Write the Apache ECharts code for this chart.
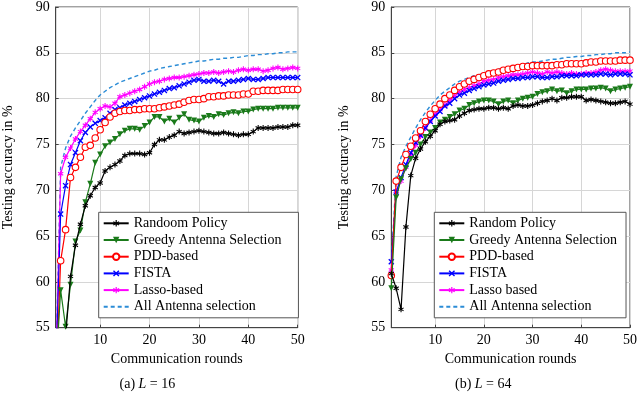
<!DOCTYPE html>
<html><head><meta charset="utf-8">
<script src="https://cdn.jsdelivr.net/npm/echarts@6/dist/echarts.min.js"></script>
<style>html,body{margin:0;padding:0;background:#fff}#c{width:640px;height:393px}</style>
</head><body><div id="c"></div>
<script>
// ---------- data ----------
const rounds = [1,2,3,4,5,6,7,8,9,10,11,12,13,14,15,16,17,18,19,20,21,22,23,24,25,26,27,28,29,30,31,32,33,34,35,36,37,38,39,40,41,42,43,44,45,46,47,48,49,50];
const xTicks = [10,20,30,40,50];
const yTicks = [55,60,65,70,75,80,85,90];

// (a) L = 16
const randomA = [40,48,54,60.6,64.0,66.3,68.3,69.4,70.3,70.8,72.1,72.5,72.8,73.2,73.8,74.0,74.0,74.0,73.9,74.1,75.0,75.5,75.5,75.8,76.0,76.4,76.2,76.3,76.4,76.5,76.4,76.3,76.2,76.2,76.3,76.2,76.1,76.0,76.1,76.1,76.4,76.8,76.8,76.8,76.8,76.9,76.9,76.9,77.1,77.1];
const greedyA = [50,59.1,55.1,59.7,64.4,65.6,68.7,70.7,73.0,73.9,74.8,75.2,75.6,76.1,76.5,76.7,76.7,76.6,77.0,77.4,78.0,78.0,77.5,77.8,77.4,77.9,78.3,77.7,77.6,77.5,77.9,78.1,78.0,78.3,78.2,78.4,78.5,78.4,78.6,78.6,78.8,78.9,78.9,78.9,78.9,79.0,79.0,79.0,79.0,79.0];
const pddA = [48,62.3,65.7,71.4,72.5,73.6,74.7,74.9,75.7,76.6,77.4,78.0,78.4,78.6,78.7,78.7,78.8,78.8,78.9,78.9,78.9,79.0,79.1,79.2,79.3,79.4,79.6,79.8,79.9,79.9,80.0,80.2,80.2,80.3,80.3,80.4,80.4,80.4,80.5,80.5,80.8,80.8,80.9,80.9,80.9,80.9,81.0,81.0,81.0,81.0];
const fistaA = [50,67.4,70.5,72.8,74.1,75.4,76.3,76.9,77.3,77.6,77.9,78.4,78.8,79.0,79.3,79.5,79.7,79.9,80.1,80.3,80.5,80.7,80.9,81.1,81.2,81.4,81.6,81.8,82.0,82.1,81.9,81.9,82.0,81.9,81.6,81.9,81.9,82.0,82.1,82.2,82.1,82.1,82.2,82.3,82.3,82.3,82.3,82.3,82.3,82.3];
const lassoA = [50,71.8,73.6,74.6,75.6,76.4,77.1,77.8,78.5,78.9,79.2,79.1,79.5,80.2,80.4,80.6,80.8,81.0,81.3,81.6,81.8,81.9,82.1,82.2,82.3,82.3,82.4,82.5,82.6,82.7,82.8,82.8,82.9,82.8,82.9,83.0,82.9,83.1,83.2,83.1,83.2,83.2,83.0,83.1,83.3,83.4,83.2,83.3,83.4,83.3];
const allA = [50,72.5,74.6,75.9,76.8,77.6,78.4,79.1,79.8,80.4,80.8,81.2,81.5,81.8,82.0,82.2,82.4,82.6,82.8,83.0,83.1,83.3,83.4,83.5,83.6,83.7,83.8,83.9,84.0,84.1,84.1,84.2,84.3,84.3,84.4,84.4,84.5,84.5,84.6,84.7,84.7,84.8,84.8,84.9,84.9,85.0,85.0,85.1,85.1,85.1];

// (b) L = 64
const randomB = [60.9,59.3,57.0,66.0,71.6,73.5,74.5,75.3,75.9,76.5,77.2,77.5,77.6,77.7,78.1,78.4,78.7,78.8,78.9,78.9,79.0,79.0,78.9,79.0,78.9,79.2,79.3,79.2,79.2,79.3,79.5,79.7,79.8,80.0,79.8,80.1,80.1,80.2,80.2,80.2,79.8,79.9,79.8,79.7,79.6,79.5,79.5,79.6,79.7,79.4];
const greedyB = [59.3,69.2,71.2,72.4,73.4,74.1,75.0,75.8,76.3,76.8,77.4,77.7,78.0,78.3,78.7,78.9,79.3,79.5,79.7,79.8,79.8,79.7,79.4,79.7,79.8,79.5,79.8,80.0,80.1,80.2,80.5,80.7,80.8,81.0,80.8,80.9,80.6,80.8,81.0,81.0,81.0,81.1,81.1,81.2,81.1,80.8,81.0,81.1,81.2,81.3];
const pddB = [60.7,71.0,72.5,73.9,74.8,75.7,76.5,77.5,78.3,78.9,79.4,80.0,80.4,80.9,81.3,81.6,81.9,82.1,82.3,82.5,82.7,82.8,82.9,83.1,83.2,83.3,83.4,83.5,83.5,83.6,83.6,83.6,83.6,83.6,83.7,83.7,83.8,83.8,83.8,83.8,83.9,84.0,84.0,84.1,84.1,84.1,84.1,84.2,84.2,84.2];
const fistaB = [62.2,69.8,71.4,72.8,74.1,75.2,76.0,76.8,77.5,78.1,78.6,79.2,79.5,80.0,80.4,80.6,80.9,81.1,81.3,81.5,81.6,81.7,81.9,82.0,82.1,82.2,82.2,82.3,82.3,82.4,82.4,82.3,82.3,82.4,82.4,82.5,82.5,82.5,82.5,82.6,82.6,82.6,82.6,82.7,82.7,82.6,82.7,82.7,82.7,82.6];
const lassoB = [61.3,69.9,71.0,72.5,73.9,74.9,75.9,76.8,77.6,78.3,78.8,79.3,79.8,80.3,80.7,81.0,81.2,81.4,81.6,81.9,82.0,82.1,82.3,82.4,82.5,82.6,82.6,82.7,82.8,82.9,82.8,82.7,82.9,82.8,82.9,82.8,82.7,82.8,82.7,82.7,82.8,82.8,82.9,83.1,83.2,83.1,83.0,83.0,83.0,83.0];
const allB = [62,71.5,73.6,74.8,75.8,76.8,77.7,78.5,79.2,79.8,80.4,80.8,81.2,81.6,81.9,82.1,82.3,82.5,82.6,82.8,82.9,83.0,83.2,83.3,83.4,83.5,83.6,83.7,83.9,84.0,84.0,84.1,84.2,84.3,84.3,84.4,84.5,84.5,84.6,84.6,84.7,84.7,84.8,84.8,84.9,84.9,85.0,85.0,85.0,85.1];

const namesA = ['Randoom Policy','Greedy Antenna Selection','PDD-based','FISTA','Lasso-based','All Antenna selection'];
const namesB = ['Random Policy','Greedy Antenna Selection','PDD-based','FISTA','Lasso based','All Antenna selection'];

// ---------- styles ----------
const FONT = '"Liberation Serif", "Times New Roman", serif';
const ASTER = 'path://M-0.9,-5L0.9,-5L0.9,5L-0.9,5ZM-4.78,-1.72L-3.88,-3.28L4.78,1.72L3.88,3.28ZM3.88,-3.28L4.78,-1.72L-3.88,3.28L-4.78,1.72Z';
const CROSS = 'path://M-4.18,-2.9L-2.9,-4.18L4.18,2.9L2.9,4.18ZM2.9,-4.18L4.18,-2.9L-2.9,4.18L-4.18,2.9Z';
const styles = [
  {color:'#000000', symbol:ASTER, size:6, fill:'#000000'},
  {color:'#1a7a1a', symbol:'triangle', size:6, rotate:180, fill:'#1a7a1a'},
  {color:'#ff0000', symbol:'circle', size:6.5, fill:'#ffffff'},
  {color:'#0000ff', symbol:CROSS, size:6, fill:'#0000ff'},
  {color:'#ff00ff', symbol:ASTER, size:6, fill:'#ff00ff'},
  {color:'#2b8cd6', symbol:'none', size:0, dashed:true}
];

function pairs(vals){ return rounds.map((r,i)=>[r, vals[i]]); }

function makeSeries(names, dataSets, idx){
  return dataSets.map((vals,k)=>{
    const s = styles[k];
    return {
      type:'line', name:names[k], xAxisIndex:idx, yAxisIndex:idx,
      data:pairs(vals), clip:true, z: 10 - k,
      symbol:s.symbol, symbolSize:s.size, symbolRotate:s.rotate||0, symbolKeepAspect:true,
      showSymbol: s.symbol !== 'none',
      lineStyle:{color:s.color, width: s.dashed?1.4:1.2, type: s.dashed?[4,3]:'solid'},
      itemStyle:{color: s.fill || s.color, borderColor:s.color, borderWidth: s.symbol==='circle'?1.1:0},
      emphasis:{disabled:true}
    };
  });
}

const grids = [
  {left:55.7, right:342.3, top:5.5, bottom:65.3},
  {left:391.3, right:7.3, top:5.5, bottom:65.3}
];

function xAxisCfg(idx){
  return {
    type:'value', gridIndex:idx, min:1, max:50,
    name:'Communication rounds', nameLocation:'middle', nameGap:24,
    nameTextStyle:{fontFamily:FONT, fontSize:14, color:'#000'},
    axisLine:{show:true, lineStyle:{color:'#444', width:1}},
    axisTick:{show:true, inside:true, length:3, customValues:xTicks, lineStyle:{color:'#444'}},
    axisLabel:{customValues:xTicks, fontFamily:FONT, fontSize:14, color:'#000', margin:6},
    splitLine:{show:true, lineStyle:{color:'#d6d6d6', width:1}}
  };
}
function yAxisCfg(idx){
  return {
    type:'value', gridIndex:idx, min:55, max:90, interval:5,
    name:'Testing accuracy in %', nameLocation:'middle', nameGap:40,
    nameTextStyle:{fontFamily:FONT, fontSize:14, color:'#000'},
    axisLine:{show:true, lineStyle:{color:'#444', width:1}},
    axisTick:{show:true, inside:true, length:3, lineStyle:{color:'#444'}},
    axisLabel:{fontFamily:FONT, fontSize:14, color:'#000', margin:6},
    splitLine:{show:true, lineStyle:{color:'#d6d6d6', width:1}}
  };
}
function legendCfg(names, left, padRight){
  return {
    data:names.map((n,k)=> k===5 ? {name:n, itemStyle:{color:'rgba(0,0,0,0)', borderColor:'rgba(0,0,0,0)', borderWidth:0}} : {name:n}),
    orient:'vertical', left:left, top:212.3,
    backgroundColor:'#fff', borderColor:'#555', borderWidth:1, borderRadius:0,
    padding:[4,padRight,4,4], itemWidth:25, itemHeight:8, itemGap:2.7, itemTextGap:4,
    selectedMode:false,
    textStyle:{fontFamily:FONT, fontSize:14, lineHeight:14, color:'#000'}
  };
}

const chart = echarts.init(document.getElementById('c'), null, {renderer:'canvas'});
chart.setOption({
  animation:false,
  backgroundColor:'#fff',
  grid: grids.map(g=>Object.assign({show:true, borderColor:'#444', borderWidth:1, backgroundColor:'transparent'}, g)),
  xAxis:[xAxisCfg(0), xAxisCfg(1)],
  yAxis:[yAxisCfg(0), yAxisCfg(1)],
  legend:[legendCfg(namesA, 98.7, 17), legendCfg(namesB, 434.3, 9)],
  series: makeSeries(namesA,[randomA,greedyA,pddA,fistaA,lassoA,allA],0)
    .concat(makeSeries(namesB,[randomB,greedyB,pddB,fistaB,lassoB,allB],1)),
  graphic:[
    {type:'text', left:152.5-33, top:377, style:{text:'(a) {i|L} = 16', rich:{i:{fontStyle:'italic', fontFamily:FONT, fontSize:14}}, fontFamily:FONT, fontSize:14, fill:'#000'}},
    {type:'text', left:488-33, top:377, style:{text:'(b) {i|L} = 64', rich:{i:{fontStyle:'italic', fontFamily:FONT, fontSize:14}}, fontFamily:FONT, fontSize:14, fill:'#000'}}
  ]
});
</script></body></html>
